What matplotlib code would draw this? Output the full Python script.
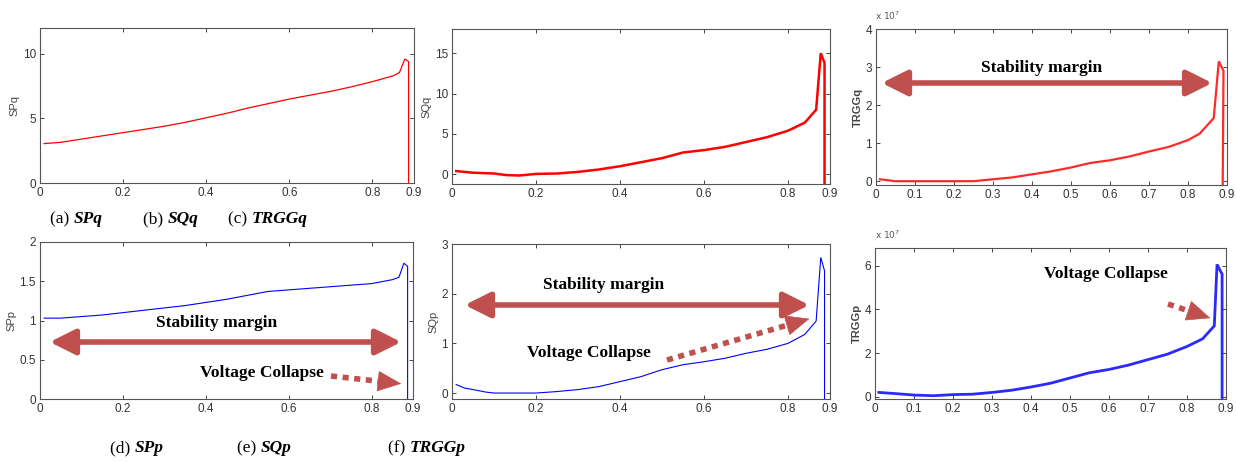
import numpy as np
import matplotlib.pyplot as plt
from matplotlib.patches import FancyArrowPatch

# load factor / index values
x_spq = [0.01, 0.05, 0.1, 0.15, 0.2, 0.25, 0.3, 0.35, 0.4, 0.45, 0.5, 0.55, 0.6, 0.65, 0.7, 0.75, 0.8, 0.85, 0.865, 0.878, 0.887, 0.887]
y_spq = [3.05, 3.15, 3.4, 3.65, 3.9, 4.15, 4.4, 4.7, 5.05, 5.4, 5.8, 6.15, 6.5, 6.8, 7.1, 7.45, 7.85, 8.3, 8.55, 9.6, 9.4, 0.0]

x_sqq = [0.01, 0.03, 0.05, 0.1, 0.13, 0.16, 0.2, 0.25, 0.3, 0.35, 0.4, 0.45, 0.5, 0.55, 0.6, 0.65, 0.7, 0.75, 0.8, 0.84, 0.867, 0.878, 0.887, 0.887]
y_sqq = [0.4, 0.3, 0.2, 0.1, -0.1, -0.15, 0.05, 0.1, 0.3, 0.6, 1.0, 1.5, 2.0, 2.7, 3.0, 3.4, 4.0, 4.6, 5.4, 6.4, 8.0, 15.0, 13.8, -1.2]

x_trggq = [0.01, 0.05, 0.1, 0.2, 0.25, 0.3, 0.35, 0.4, 0.45, 0.5, 0.55, 0.6, 0.65, 0.7, 0.75, 0.8, 0.83, 0.866, 0.879, 0.891, 0.889]
y_trggq = [0.05, 0.0, 0.0, 0.0, 0.0, 0.05, 0.1, 0.18, 0.26, 0.36, 0.48, 0.55, 0.65, 0.78, 0.9, 1.08, 1.25, 1.66, 3.15, 2.9, -0.1]

x_spp = [0.01, 0.05, 0.1, 0.15, 0.2, 0.25, 0.3, 0.35, 0.4, 0.45, 0.5, 0.55, 0.6, 0.65, 0.7, 0.75, 0.8, 0.85, 0.866, 0.878, 0.887, 0.887]
y_spp = [1.03, 1.03, 1.05, 1.07, 1.1, 1.13, 1.16, 1.19, 1.23, 1.27, 1.32, 1.37, 1.39, 1.41, 1.43, 1.45, 1.47, 1.52, 1.55, 1.73, 1.69, 0.0]

x_sqp = [0.01, 0.03, 0.05, 0.08, 0.1, 0.15, 0.2, 0.25, 0.3, 0.35, 0.4, 0.45, 0.5, 0.55, 0.6, 0.65, 0.7, 0.75, 0.8, 0.84, 0.867, 0.878, 0.887, 0.887]
y_sqp = [0.17, 0.1, 0.07, 0.02, 0.0, 0.0, 0.0, 0.03, 0.07, 0.13, 0.23, 0.33, 0.47, 0.57, 0.63, 0.7, 0.8, 0.88, 1.0, 1.18, 1.45, 2.73, 2.46, -0.12]

x_trggp = [0.01, 0.05, 0.1, 0.15, 0.2, 0.25, 0.3, 0.35, 0.4, 0.45, 0.5, 0.55, 0.6, 0.65, 0.7, 0.75, 0.8, 0.84, 0.87, 0.877, 0.89, 0.89]
y_trggp = [0.2, 0.15, 0.08, 0.05, 0.1, 0.12, 0.2, 0.3, 0.45, 0.62, 0.86, 1.1, 1.25, 1.45, 1.7, 1.95, 2.3, 2.65, 3.24, 6.05, 5.6, -0.1]

xt_coarse = [0, 0.2, 0.4, 0.6, 0.8, 0.9]
xt_fine = [0, 0.1, 0.2, 0.3, 0.4, 0.5, 0.6, 0.7, 0.8, 0.9]

W, H = 1236, 462
fig = plt.figure(figsize=(W / 100, H / 100), dpi=100)

def box(l, r, t, b):
    return [l / W, (H - b) / H, (r - l) / W, (b - t) / H]

def fx(px, py):
    return (px / W, (H - py) / H)

red = '#ff0000'
blue = '#0000ff'
arrow_c = '#c0504d'
gray = '#444444'

panels = [
    # rect, x, y, colour, lw, ylim, yticks, ylabel, xticks
    (box(40, 414, 28, 183), x_spq, y_spq, red, 0.9, (0, 12), [0, 5, 10], 'SPq', xt_coarse),
    (box(452, 830, 29, 184), x_sqq, y_sqq, red, 1.8, (-1.2, 18), [0, 5, 10, 15], 'SQq', xt_coarse),
    (box(876, 1227, 29, 185), x_trggq, y_trggq, '#ff2a2a', 1.6, (-0.1, 4), [0, 1, 2, 3, 4], 'TRGGq', xt_fine),
    (box(40, 413, 242, 399), x_spp, y_spp, blue, 0.8, (0, 2), [0, 0.5, 1, 1.5, 2], 'SPp', xt_coarse),
    (box(452, 830, 244, 399), x_sqp, y_sqp, blue, 0.8, (-0.12, 3), [0, 1, 2, 3], 'SQp', xt_coarse),
    (box(875, 1226, 248, 399), x_trggp, y_trggp, '#2a2aff', 2.0, (-0.1, 6.8), [0, 2, 4, 6], 'TRGGp', xt_fine),
]

for i, (rect, xs, ys, c, lw, yl, yt, lab, xt) in enumerate(panels):
    ax = fig.add_axes(rect)
    ax.plot(xs, ys, color=c, lw=lw, solid_joinstyle='miter')
    ax.set_xlim(0, 0.9)
    ax.set_ylim(*yl)
    ax.set_yticks(yt)
    ax.set_yticklabels(['%g' % v for v in yt])
    ax.set_xticks(xt)
    ax.set_xticklabels(['%g' % v for v in xt])
    ax.tick_params(direction='in', top=True, right=True, length=3, width=0.7,
                   labelsize=8.5, colors=gray, pad=3)
    for lb in ax.get_xticklabels() + ax.get_yticklabels():
        lb.set_fontfamily('Liberation Sans')
        lb.set_color('#333333')
    for s in ax.spines.values():
        s.set_color('#555555')
        s.set_linewidth(0.8)
    w = 'bold' if i in (2, 5) else 'normal'
    ax.set_ylabel(lab, fontsize=8, color=gray, family='Liberation Sans', weight=w, labelpad=2)

# multiplier labels
fig.text(*fx(875, 16), r'x 10$^7$', fontsize=6.5, color='#555555', va='center')
fig.text(*fx(875, 235), r'x 10$^7$', fontsize=6.5, color='#555555', va='center')

# captions
cap = dict(fontsize=12.5, family='Liberation Serif', va='center')
for px, py, a, b in [(50, 219, '(a) ', 'SPq'), (143, 219, '(b) ', 'SQq'), (228, 219, '(c) ', 'TRGGq'),
                     (110, 448, '(d) ', 'SPp'), (237, 448, '(e) ', 'SQp'), (388, 448, '(f) ', 'TRGGp')]:
    t = fig.text(*fx(px, py), a, **cap)
    fig.canvas.draw()
    bb = t.get_window_extent()
    fig.text(bb.x1 / W, (H - py) / H, b, weight='bold', style='italic', **cap)

ann = dict(fontsize=12.5, family='Liberation Serif', weight='bold', ha='center', va='center')

def double_arrow(x0, x1, y):
    fig.patches.append(FancyArrowPatch(fx(x0, y), fx(x1, y), transform=fig.transFigure,
                                       arrowstyle='<|-|>,head_length=1.1,head_width=0.55',
                                       mutation_scale=14, lw=4, color=arrow_c))

def dotted_arrow(x0, y0, x1, y1):
    dx, dy = x1 - x0, y1 - y0
    n = np.hypot(dx, dy)
    hx, hy = x1 - dx / n * 15, y1 - dy / n * 15
    p0, ph = fx(x0, y0), fx(hx, hy)
    fig.add_artist(plt.Line2D([p0[0], ph[0]], [p0[1], ph[1]], transform=fig.transFigure,
                              color=arrow_c, lw=4, linestyle=(0, (1.1, 1.0))))
    fig.patches.append(FancyArrowPatch(fx(hx - dx / n * 2, hy - dy / n * 2), fx(x1, y1), transform=fig.transFigure,
                                       arrowstyle='-|>,head_length=1.15,head_width=0.5',
                                       mutation_scale=14, lw=0.5, color=arrow_c))

# (c)
fig.text(*fx(1042, 68), 'Stability margin', **ann)
double_arrow(879, 1215, 83)
# (d)
fig.text(*fx(217, 323), 'Stability margin', **ann)
double_arrow(47, 404, 342)
fig.text(*fx(262, 373), 'Voltage Collapse', **ann)
dotted_arrow(331, 376, 404, 384)
# (e)
fig.text(*fx(604, 285), 'Stability margin', **ann)
double_arrow(462, 812, 305)
fig.text(*fx(589, 353), 'Voltage Collapse', **ann)
dotted_arrow(667, 360, 812, 318)
# (f)
fig.text(*fx(1106, 274), 'Voltage Collapse', **ann)
dotted_arrow(1168, 304, 1213, 319)

fig.savefig('out.png', dpi=100)
